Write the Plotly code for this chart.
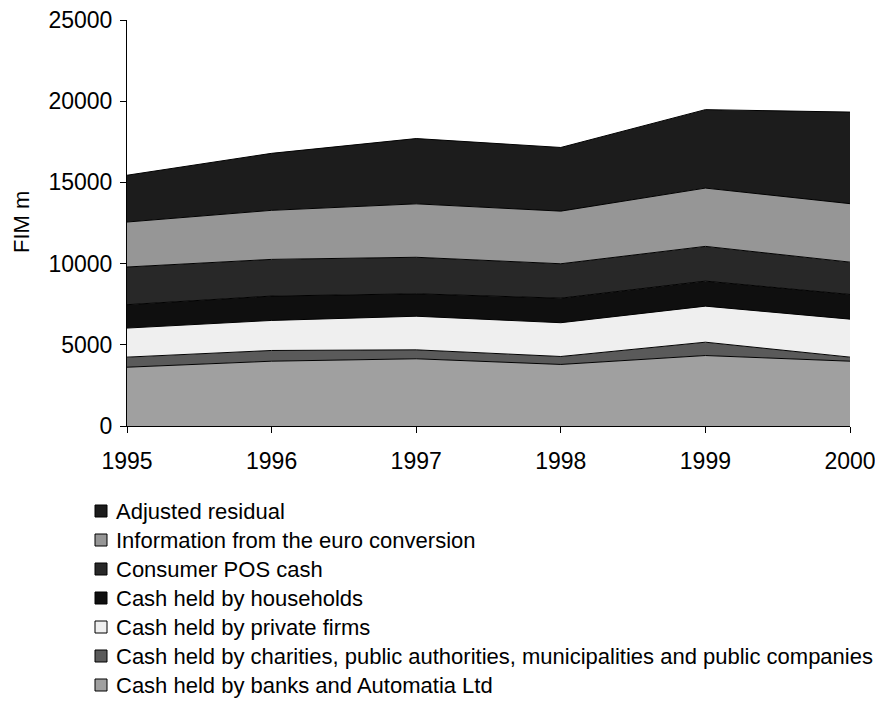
import plotly.graph_objects as go

years = ["1995", "1996", "1997", "1998", "1999", "2000"]

banks = [3620, 3990, 4140, 3790, 4340, 3990]
charities = [620, 660, 550, 490, 820, 250]
private_firms = [1790, 1850, 2070, 2080, 2220, 2340]
households = [1440, 1500, 1380, 1510, 1540, 1520]
consumer_pos = [2320, 2260, 2250, 2120, 2140, 1990]
euro_info = [2770, 3020, 3290, 3240, 3590, 3600]
residual = [2880, 3510, 4020, 3920, 4830, 5640]

series = [
    ("Cash held by banks and Automatia Ltd", banks, "#a0a0a0"),
    ("Cash held by charities, public authorities, municipalities and public companies", charities, "#5a5a5a"),
    ("Cash held by private firms", private_firms, "#efefef"),
    ("Cash held by households", households, "#0f0f0f"),
    ("Consumer POS cash", consumer_pos, "#282828"),
    ("Information from the euro conversion", euro_info, "#969696"),
    ("Adjusted residual", residual, "#1c1c1c"),
]

W, H = 875, 696
ML, MR, MT, MB = 119, 33, 12, 278
PW, PH = W - ML - MR, H - MT - MB


def px(fx):
    return (fx - ML) / PW


def py(fy):
    return (H - MB - fy) / PH


fig = go.Figure()
for name, vals, col in series:
    fig.add_trace(go.Scatter(
        x=years, y=vals, name=name, mode="lines",
        stackgroup="one", fillcolor=col,
        line=dict(color="black", width=1),
        showlegend=False,
    ))

# custom legend (top entry = last series)
shapes, annots = [], []
for i, (name, vals, col) in enumerate(reversed(series)):
    cy = 503 + i * 29
    shapes.append(dict(
        type="rect", xref="paper", yref="paper",
        x0=px(87), x1=px(99), y0=py(cy - 6), y1=py(cy + 6),
        fillcolor=col, line=dict(color="black", width=1),
    ))
    annots.append(dict(
        text=name, showarrow=False, xref="paper", yref="paper",
        x=px(106), y=py(cy), xanchor="left", yanchor="middle",
        font=dict(size=22),
    ))

annots.append(dict(
    text="FIM m", textangle=-90, showarrow=False,
    xref="paper", yref="paper", x=px(14), y=py(214),
    xanchor="center", yanchor="middle", font=dict(size=22),
))

fig.update_layout(
    width=W, height=H,
    paper_bgcolor="white", plot_bgcolor="white",
    margin=dict(l=ML, r=MR, t=MT, b=MB, autoexpand=False),
    font=dict(family="Liberation Sans, Arial, sans-serif", size=22, color="black"),
    showlegend=False,
    xaxis=dict(
        type="category", range=[0, 5],
        showline=True, linecolor="black", linewidth=1,
        ticks="outside", ticklen=6, tickcolor="black",
        showgrid=False, zeroline=False, tickangle=0,
        tickfont=dict(size=23), ticklabelstandoff=8,
    ),
    yaxis=dict(
        range=[0, 25000], tick0=0, dtick=5000, tickformat="d",
        showline=True, linecolor="black", linewidth=1,
        ticks="outside", ticklen=6, tickcolor="black",
        showgrid=False, zeroline=False, ticklabeloverflow="allow",
        tickfont=dict(size=23), ticklabelstandoff=3,
    ),
    shapes=shapes,
    annotations=annots,
)

fig.write_html("out.html")
